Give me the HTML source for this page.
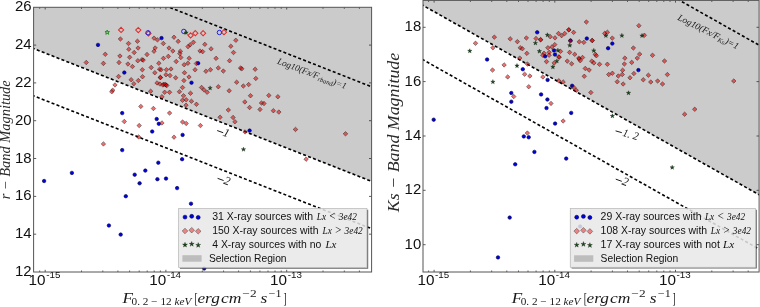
<!DOCTYPE html>
<html><head><meta charset="utf-8">
<style>
html,body{margin:0;padding:0;background:#fff;width:760px;height:307px;overflow:hidden}
svg{display:block;filter:blur(0.35px)}
text{font-family:"Liberation Sans",sans-serif}
.ser{font-family:"Liberation Serif",serif}
.it{font-style:italic}
</style></head><body>
<svg width="760" height="307" viewBox="0 0 760 307">
<defs>
<clipPath id="cl"><rect x="33.6" y="7.3" width="338.0" height="264.7"/></clipPath>
<clipPath id="cr"><rect x="423.0" y="0.4" width="336.1" height="271.6"/></clipPath>
</defs>

<polygon fill="#cbcbcb" points="33.6,7.3 371.6,7.3 371.6,181.4 33.6,48.5"/>
<polygon fill="#cbcbcb" points="423.0,0.4 759.1,0.4 759.1,194.8 423.0,5.4"/>
<g clip-path="url(#cl)">
<line x1="28.6" y1="-48.03" x2="376.6" y2="88.74" stroke="#000" stroke-width="1.6" stroke-dasharray="3.05 2.25" fill="none" stroke-dashoffset="1.82"/>
<line x1="28.6" y1="46.57" x2="376.6" y2="183.34" stroke="#000" stroke-width="1.6" stroke-dasharray="3.05 2.25" fill="none" stroke-dashoffset="1.82"/>
<line x1="28.6" y1="93.87" x2="376.6" y2="230.64" stroke="#000" stroke-width="1.6" stroke-dasharray="3.05 2.25" fill="none" stroke-dashoffset="1.82"/>
</g>
<g clip-path="url(#cr)">
<line x1="418.0" y1="-147.00" x2="764.1" y2="47.99" stroke="#000" stroke-width="1.6" stroke-dasharray="3.05 2.25" fill="none" stroke-dashoffset="-0.8"/>
<line x1="418.0" y1="2.60" x2="764.1" y2="197.59" stroke="#000" stroke-width="1.6" stroke-dasharray="3.05 2.25" fill="none" stroke-dashoffset="1.93"/>
<line x1="418.0" y1="56.90" x2="764.1" y2="251.89" stroke="#000" stroke-width="1.6" stroke-dasharray="3.05 2.25" fill="none" stroke-dashoffset="0.67"/>
</g>
<g clip-path="url(#cl)">
<g fill="#0000e8" stroke="#000040" stroke-width="0.6"><circle cx="98.0" cy="44.9" r="1.75"/><circle cx="161.5" cy="38.1" r="1.75"/><circle cx="124.3" cy="72.6" r="1.75"/><circle cx="198.1" cy="63.2" r="1.75"/><circle cx="191.5" cy="82.7" r="1.75"/><circle cx="122.2" cy="113.1" r="1.75"/><circle cx="122.2" cy="150.1" r="1.75"/><circle cx="156.7" cy="119.0" r="1.75"/><circle cx="158.8" cy="123.8" r="1.75"/><circle cx="152.2" cy="131.5" r="1.75"/><circle cx="182.6" cy="134.9" r="1.75"/><circle cx="249.6" cy="130.6" r="1.75"/><circle cx="182.1" cy="159.2" r="1.75"/><circle cx="44.1" cy="181.0" r="1.75"/><circle cx="71.9" cy="172.9" r="1.75"/><circle cx="134.7" cy="174.7" r="1.75"/><circle cx="145.3" cy="170.6" r="1.75"/><circle cx="139.6" cy="183.3" r="1.75"/><circle cx="125.8" cy="196.2" r="1.75"/><circle cx="158.3" cy="162.7" r="1.75"/><circle cx="157.4" cy="179.2" r="1.75"/><circle cx="166.0" cy="178.6" r="1.75"/><circle cx="177.1" cy="188.1" r="1.75"/><circle cx="191.0" cy="203.7" r="1.75"/><circle cx="108.9" cy="225.5" r="1.75"/><circle cx="120.7" cy="234.6" r="1.75"/><circle cx="204.2" cy="268.5" r="1.75"/></g>
<g fill="rgba(224,0,0,0.56)" stroke="rgba(0,0,0,0.55)" stroke-width="0.7"><path d="M120.4 36.8L122.7 39.0L120.4 41.2L118.2 39.0Z"/><path d="M128.5 41.2L130.8 43.5L128.5 45.8L126.2 43.5Z"/><path d="M137.4 39.0L139.7 41.2L137.4 43.5L135.2 41.2Z"/><path d="M128.8 47.0L131.1 49.2L128.8 51.5L126.6 49.2Z"/><path d="M138.1 45.8L140.3 48.0L138.1 50.2L135.8 48.0Z"/><path d="M134.2 50.2L136.4 52.5L134.2 54.8L131.9 52.5Z"/><path d="M105.2 52.0L107.5 54.3L105.2 56.5L103.0 54.3Z"/><path d="M119.9 53.8L122.2 56.0L119.9 58.2L117.7 56.0Z"/><path d="M129.7 55.0L131.9 57.3L129.7 59.5L127.4 57.3Z"/><path d="M154.0 35.9L156.2 38.1L154.0 40.4L151.8 38.1Z"/><path d="M157.4 37.6L159.7 39.9L157.4 42.1L155.2 39.9Z"/><path d="M163.3 41.2L165.6 43.5L163.3 45.8L161.1 43.5Z"/><path d="M174.0 35.0L176.2 37.2L174.0 39.5L171.8 37.2Z"/><path d="M178.2 39.1L180.4 41.4L178.2 43.6L175.9 41.4Z"/><path d="M193.4 40.0L195.7 42.3L193.4 44.5L191.2 42.3Z"/><path d="M190.2 42.5L192.4 44.8L190.2 47.0L187.9 44.8Z"/><path d="M188.0 44.4L190.2 46.6L188.0 48.9L185.8 46.6Z"/><path d="M204.8 42.1L207.1 44.4L204.8 46.6L202.6 44.4Z"/><path d="M211.1 46.6L213.3 48.9L211.1 51.1L208.8 48.9Z"/><path d="M200.0 48.8L202.2 51.0L200.0 53.2L197.8 51.0Z"/><path d="M202.7 49.4L204.9 51.6L202.7 53.9L200.4 51.6Z"/><path d="M235.8 38.0L238.1 40.3L235.8 42.5L233.6 40.3Z"/><path d="M230.8 44.0L233.1 46.2L230.8 48.5L228.6 46.2Z"/><path d="M233.5 50.2L235.8 52.5L233.5 54.8L231.2 52.5Z"/><path d="M155.2 45.8L157.4 48.0L155.2 50.2L152.9 48.0Z"/><path d="M154.0 49.0L156.2 51.2L154.0 53.5L151.8 51.2Z"/><path d="M169.0 45.8L171.2 48.0L169.0 50.2L166.8 48.0Z"/><path d="M172.8 48.8L175.1 51.0L172.8 53.2L170.6 51.0Z"/><path d="M147.0 52.2L149.2 54.5L147.0 56.8L144.8 54.5Z"/><path d="M180.3 49.0L182.6 51.2L180.3 53.5L178.1 51.2Z"/><path d="M179.8 51.4L182.1 53.6L179.8 55.9L177.6 53.6Z"/><path d="M180.8 55.2L183.1 57.5L180.8 59.8L178.6 57.5Z"/><path d="M142.1 57.4L144.3 59.6L142.1 61.9L139.8 59.6Z"/><path d="M143.2 57.9L145.4 60.1L143.2 62.4L140.9 60.1Z"/><path d="M163.4 56.1L165.7 58.4L163.4 60.6L161.2 58.4Z"/><path d="M168.3 54.1L170.6 56.4L168.3 58.6L166.1 56.4Z"/><path d="M189.2 56.0L191.4 58.2L189.2 60.5L186.9 58.2Z"/><path d="M158.8 61.0L161.1 63.2L158.8 65.5L156.6 63.2Z"/><path d="M176.2 59.2L178.4 61.5L176.2 63.8L173.9 61.5Z"/><path d="M184.2 62.5L186.4 64.7L184.2 67.0L181.9 64.7Z"/><path d="M187.9 61.0L190.2 63.2L187.9 65.5L185.7 63.2Z"/><path d="M196.4 61.2L198.7 63.5L196.4 65.8L194.2 63.5Z"/><path d="M151.2 65.2L153.4 67.5L151.2 69.8L148.9 67.5Z"/><path d="M142.3 67.5L144.6 69.8L142.3 72.0L140.1 69.8Z"/><path d="M159.6 67.0L161.8 69.2L159.6 71.5L157.3 69.2Z"/><path d="M161.1 67.5L163.3 69.8L161.1 72.0L158.8 69.8Z"/><path d="M166.4 67.5L168.7 69.8L166.4 72.0L164.2 69.8Z"/><path d="M171.0 66.8L173.2 69.0L171.0 71.2L168.8 69.0Z"/><path d="M154.8 70.5L157.1 72.7L154.8 75.0L152.6 72.7Z"/><path d="M184.5 70.5L186.8 72.7L184.5 75.0L182.2 72.7Z"/><path d="M195.1 67.5L197.3 69.8L195.1 72.0L192.8 69.8Z"/><path d="M205.9 69.0L208.2 71.2L205.9 73.5L203.7 71.2Z"/><path d="M210.4 67.5L212.7 69.8L210.4 72.0L208.2 69.8Z"/><path d="M142.5 74.5L144.8 76.7L142.5 79.0L140.2 76.7Z"/><path d="M160.3 75.0L162.6 77.2L160.3 79.5L158.1 77.2Z"/><path d="M166.0 72.5L168.2 74.7L166.0 77.0L163.8 74.7Z"/><path d="M170.0 73.2L172.2 75.5L170.0 77.8L167.8 75.5Z"/><path d="M175.7 75.5L177.9 77.8L175.7 80.0L173.4 77.8Z"/><path d="M189.0 74.8L191.2 77.0L189.0 79.2L186.8 77.0Z"/><path d="M183.9 78.3L186.2 80.6L183.9 82.8L181.7 80.6Z"/><path d="M160.4 75.5L162.7 77.7L160.4 80.0L158.2 77.7Z"/><path d="M163.8 82.0L166.1 84.3L163.8 86.5L161.6 84.3Z"/><path d="M165.9 82.8L168.2 85.1L165.9 87.3L163.7 85.1Z"/><path d="M157.1 80.7L159.3 82.9L157.1 85.2L154.8 82.9Z"/><path d="M159.9 81.8L162.2 84.1L159.9 86.3L157.7 84.1Z"/><path d="M162.8 82.7L165.1 84.9L162.8 87.2L160.6 84.9Z"/><path d="M165.3 82.2L167.6 84.4L165.3 86.7L163.1 84.4Z"/><path d="M166.8 83.2L169.1 85.5L166.8 87.8L164.6 85.5Z"/><path d="M182.5 85.2L184.8 87.5L182.5 89.8L180.2 87.5Z"/><path d="M201.6 85.2L203.8 87.5L201.6 89.8L199.3 87.5Z"/><path d="M216.1 56.1L218.3 58.4L216.1 60.6L213.8 58.4Z"/><path d="M229.6 58.5L231.8 60.7L229.6 63.0L227.3 60.7Z"/><path d="M240.6 65.8L242.8 68.0L240.6 70.2L238.3 68.0Z"/><path d="M241.8 66.5L244.1 68.8L241.8 71.0L239.6 68.8Z"/><path d="M218.3 65.7L220.6 67.9L218.3 70.2L216.1 67.9Z"/><path d="M223.3 68.8L225.6 71.1L223.3 73.3L221.1 71.1Z"/><path d="M236.7 80.0L238.9 82.2L236.7 84.5L234.4 82.2Z"/><path d="M243.3 83.8L245.6 86.0L243.3 88.2L241.1 86.0Z"/><path d="M248.7 82.3L250.9 84.6L248.7 86.8L246.4 84.6Z"/><path d="M204.1 87.7L206.3 89.9L204.1 92.2L201.8 89.9Z"/><path d="M207.2 90.0L209.4 92.3L207.2 94.5L204.9 92.3Z"/><path d="M218.3 84.5L220.6 86.7L218.3 89.0L216.1 86.7Z"/><path d="M229.2 88.5L231.4 90.8L229.2 93.0L226.9 90.8Z"/><path d="M150.7 89.0L152.9 91.2L150.7 93.5L148.4 91.2Z"/><path d="M164.7 90.0L166.9 92.3L164.7 94.5L162.4 92.3Z"/><path d="M169.6 90.0L171.8 92.3L169.6 94.5L167.3 92.3Z"/><path d="M179.4 89.5L181.7 91.7L179.4 94.0L177.2 91.7Z"/><path d="M190.5 91.0L192.8 93.2L190.5 95.5L188.2 93.2Z"/><path d="M250.5 93.5L252.8 95.7L250.5 98.0L248.2 95.7Z"/><path d="M161.9 94.5L164.2 96.7L161.9 99.0L159.7 96.7Z"/><path d="M183.5 93.5L185.8 95.8L183.5 98.0L181.2 95.8Z"/><path d="M182.5 98.0L184.8 100.3L182.5 102.5L180.2 100.3Z"/><path d="M186.2 97.5L188.4 99.8L186.2 102.0L183.9 99.8Z"/><path d="M191.4 99.0L193.7 101.2L191.4 103.5L189.2 101.2Z"/><path d="M196.4 102.0L198.7 104.3L196.4 106.5L194.2 104.3Z"/><path d="M186.0 103.0L188.2 105.2L186.0 107.5L183.8 105.2Z"/><path d="M153.4 106.2L155.7 108.5L153.4 110.8L151.2 108.5Z"/><path d="M140.8 104.2L143.1 106.4L140.8 108.7L138.6 106.4Z"/><path d="M244.8 99.7L247.1 101.9L244.8 104.2L242.6 101.9Z"/><path d="M249.6 105.2L251.8 107.5L249.6 109.8L247.3 107.5Z"/><path d="M228.3 107.8L230.6 110.0L228.3 112.2L226.1 110.0Z"/><path d="M137.8 58.5L140.1 60.7L137.8 63.0L135.6 60.7Z"/><path d="M86.2 60.2L88.5 62.5L86.2 64.8L84.0 62.5Z"/><path d="M103.4 61.1L105.7 63.4L103.4 65.7L101.2 63.4Z"/><path d="M119.0 60.2L121.2 62.5L119.0 64.8L116.8 62.5Z"/><path d="M127.9 61.8L130.2 64.0L127.9 66.2L125.7 64.0Z"/><path d="M132.4 64.3L134.7 66.6L132.4 68.8L130.2 66.6Z"/><path d="M118.6 74.2L120.8 76.5L118.6 78.8L116.3 76.5Z"/><path d="M131.2 77.5L133.4 79.7L131.2 82.0L128.9 79.7Z"/><path d="M138.3 78.3L140.6 80.6L138.3 82.8L136.1 80.6Z"/><path d="M133.8 81.5L136.1 83.7L133.8 86.0L131.6 83.7Z"/><path d="M115.0 82.7L117.2 84.9L115.0 87.2L112.8 84.9Z"/><path d="M112.7 88.0L115.0 90.3L112.7 92.5L110.5 90.3Z"/><path d="M111.8 89.5L114.0 91.7L111.8 94.0L109.5 91.7Z"/><path d="M255.2 67.0L257.4 69.2L255.2 71.5L252.9 69.2Z"/><path d="M255.8 76.2L258.1 78.4L255.8 80.7L253.6 78.4Z"/><path d="M268.8 93.2L271.1 95.4L268.8 97.7L266.6 95.4Z"/><path d="M277.9 94.5L280.1 96.7L277.9 99.0L275.6 96.7Z"/><path d="M261.5 100.8L263.8 103.0L261.5 105.2L259.2 103.0Z"/><path d="M264.0 101.2L266.2 103.5L264.0 105.8L261.8 103.5Z"/><path d="M260.0 107.2L262.2 109.4L260.0 111.7L257.8 109.4Z"/><path d="M273.4 108.5L275.6 110.7L273.4 113.0L271.1 110.7Z"/><path d="M278.8 109.8L281.1 112.1L278.8 114.3L276.6 112.1Z"/><path d="M124.3 119.2L126.5 121.5L124.3 123.8L122.0 121.5Z"/><path d="M139.2 123.3L141.4 125.6L139.2 127.8L136.9 125.6Z"/><path d="M138.7 134.7L140.9 136.9L138.7 139.2L136.4 136.9Z"/><path d="M103.4 141.7L105.7 143.9L103.4 146.2L101.2 143.9Z"/><path d="M169.6 110.8L171.8 113.1L169.6 115.3L167.3 113.1Z"/><path d="M220.1 115.0L222.3 117.2L220.1 119.5L217.8 117.2Z"/><path d="M233.1 115.2L235.3 117.5L233.1 119.8L230.8 117.5Z"/><path d="M234.9 119.5L237.2 121.7L234.9 124.0L232.7 121.7Z"/><path d="M161.9 120.7L164.2 122.9L161.9 125.2L159.7 122.9Z"/><path d="M182.6 119.8L184.8 122.0L182.6 124.2L180.3 122.0Z"/><path d="M186.2 121.2L188.4 123.4L186.2 125.7L183.9 123.4Z"/><path d="M200.4 123.3L202.7 125.6L200.4 127.8L198.2 125.6Z"/><path d="M174.0 134.9L176.2 137.2L174.0 139.4L171.8 137.2Z"/><path d="M245.1 129.7L247.3 131.9L245.1 134.2L242.8 131.9Z"/><path d="M295.5 127.2L297.8 129.4L295.5 131.7L293.2 129.4Z"/><path d="M345.5 131.6L347.8 133.8L345.5 136.1L343.2 133.8Z"/><path d="M306.1 156.9L308.4 159.2L306.1 161.4L303.9 159.2Z"/></g>
<g fill="none" stroke="#dc3030" stroke-width="1.05"><path d="M121.1 27.3L123.7 29.9L121.1 32.5L118.5 29.9Z"/><path d="M138.3 27.5L140.9 30.1L138.3 32.7L135.7 30.1Z"/><path d="M148.5 30.9L151.1 33.5L148.5 36.1L145.9 33.5Z"/><path d="M190.6 32.8L193.2 35.4L190.6 38.0L188.0 35.4Z"/><path d="M195.3 30.6L197.9 33.2L195.3 35.8L192.7 33.2Z"/><path d="M203.1 30.6L205.7 33.2L203.1 35.8L200.5 33.2Z"/><path d="M224.0 29.6L226.6 32.2L224.0 34.8L221.4 32.2Z"/></g>
<g fill="none" stroke="#2020e0" stroke-width="1.0"><circle cx="148.0" cy="32.8" r="2.2"/><circle cx="183.8" cy="31.4" r="2.2"/><circle cx="219.4" cy="32.5" r="2.2"/></g>
<g fill="none" stroke="#1f8a1f" stroke-width="1.0"><path d="M107.20 30.05L107.73 31.67L109.43 31.67L108.05 32.68L108.58 34.30L107.20 33.30L105.82 34.30L106.35 32.68L104.97 31.67L106.67 31.67Z"/></g>
<g fill="#164f16" stroke="rgba(0,0,0,0.6)" stroke-width="0.5"><path d="M186.10 30.40L186.62 31.99L188.29 31.99L186.94 32.97L187.45 34.56L186.10 33.58L184.75 34.56L185.26 32.97L183.91 31.99L185.58 31.99Z"/><path d="M210.10 85.80L210.62 87.39L212.29 87.39L210.94 88.37L211.45 89.96L210.10 88.98L208.75 89.96L209.26 88.37L207.91 87.39L209.58 87.39Z"/><path d="M243.50 147.10L244.02 148.69L245.69 148.69L244.34 149.67L244.85 151.26L243.50 150.28L242.15 151.26L242.66 149.67L241.31 148.69L242.98 148.69Z"/></g>
</g>
<g clip-path="url(#cr)">
<g fill="#0000e8" stroke="#000040" stroke-width="0.6"><circle cx="537.2" cy="32.3" r="1.75"/><circle cx="570.5" cy="40.6" r="1.75"/><circle cx="586.8" cy="38.5" r="1.75"/><circle cx="612.3" cy="43.6" r="1.75"/><circle cx="608.1" cy="48.2" r="1.75"/><circle cx="554.0" cy="50.4" r="1.75"/><circle cx="545.1" cy="56.3" r="1.75"/><circle cx="555.0" cy="54.6" r="1.75"/><circle cx="638.4" cy="70.1" r="1.75"/><circle cx="487.1" cy="59.5" r="1.75"/><circle cx="522.8" cy="69.2" r="1.75"/><circle cx="547.6" cy="79.9" r="1.75"/><circle cx="572.1" cy="85.8" r="1.75"/><circle cx="541.1" cy="94.4" r="1.75"/><circle cx="547.4" cy="99.5" r="1.75"/><circle cx="511.3" cy="93.0" r="1.75"/><circle cx="511.3" cy="101.7" r="1.75"/><circle cx="433.7" cy="119.7" r="1.75"/><circle cx="523.8" cy="136.4" r="1.75"/><circle cx="528.7" cy="137.3" r="1.75"/><circle cx="534.4" cy="151.9" r="1.75"/><circle cx="546.5" cy="108.1" r="1.75"/><circle cx="571.2" cy="112.9" r="1.75"/><circle cx="555.1" cy="123.6" r="1.75"/><circle cx="515.2" cy="164.3" r="1.75"/><circle cx="566.2" cy="158.6" r="1.75"/><circle cx="509.7" cy="217.6" r="1.75"/><circle cx="498.0" cy="257.4" r="1.75"/><circle cx="580.1" cy="226.4" r="1.75"/></g>
<g fill="rgba(224,0,0,0.56)" stroke="rgba(0,0,0,0.55)" stroke-width="0.7"><path d="M494.3 34.9L496.6 37.1L494.3 39.4L492.1 37.1Z"/><path d="M510.2 36.6L512.5 38.9L510.2 41.1L507.9 38.9Z"/><path d="M517.4 39.4L519.6 41.6L517.4 43.9L515.1 41.6Z"/><path d="M526.4 35.8L528.6 38.0L526.4 40.2L524.1 38.0Z"/><path d="M536.0 36.2L538.2 38.5L536.0 40.8L533.8 38.5Z"/><path d="M540.5 37.4L542.8 39.6L540.5 41.9L538.2 39.6Z"/><path d="M475.5 41.0L477.8 43.3L475.5 45.5L473.2 43.3Z"/><path d="M492.9 45.5L495.1 47.8L492.9 50.0L490.6 47.8Z"/><path d="M520.3 45.5L522.5 47.8L520.3 50.0L518.0 47.8Z"/><path d="M522.4 46.5L524.6 48.7L522.4 51.0L520.1 48.7Z"/><path d="M526.9 51.1L529.1 53.4L526.9 55.6L524.6 53.4Z"/><path d="M586.4 19.8L588.6 22.0L586.4 24.2L584.1 22.0Z"/><path d="M638.9 23.4L641.1 25.7L638.9 27.9L636.6 25.7Z"/><path d="M568.7 27.6L571.0 29.8L568.7 32.0L566.5 29.8Z"/><path d="M558.5 31.2L560.8 33.5L558.5 35.8L556.2 33.5Z"/><path d="M561.6 33.4L563.9 35.6L561.6 37.9L559.4 35.6Z"/><path d="M564.7 31.2L567.0 33.5L564.7 35.8L562.5 33.5Z"/><path d="M573.6 30.1L575.9 32.4L573.6 34.6L571.4 32.4Z"/><path d="M550.2 34.5L552.5 36.7L550.2 39.0L548.0 36.7Z"/><path d="M555.0 35.6L557.2 37.9L555.0 40.1L552.8 37.9Z"/><path d="M579.3 39.5L581.5 41.8L579.3 44.0L577.0 41.8Z"/><path d="M583.9 40.1L586.1 42.4L583.9 44.6L581.6 42.4Z"/><path d="M592.1 38.1L594.4 40.4L592.1 42.6L589.9 40.4Z"/><path d="M595.3 52.1L597.5 54.4L595.3 56.6L593.0 54.4Z"/><path d="M554.8 42.4L557.0 44.6L554.8 46.9L552.5 44.6Z"/><path d="M551.9 44.8L554.1 47.0L551.9 49.2L549.6 47.0Z"/><path d="M547.9 45.5L550.1 47.8L547.9 50.0L545.6 47.8Z"/><path d="M560.5 49.1L562.8 51.4L560.5 53.6L558.2 51.4Z"/><path d="M544.0 51.0L546.2 53.3L544.0 55.5L541.8 53.3Z"/><path d="M549.1 50.1L551.4 52.4L549.1 54.6L546.9 52.4Z"/><path d="M549.1 53.0L551.4 55.2L549.1 57.5L546.9 55.2Z"/><path d="M558.8 54.6L561.0 56.9L558.8 59.1L556.5 56.9Z"/><path d="M569.6 50.1L571.9 52.4L569.6 54.6L567.4 52.4Z"/><path d="M574.7 52.1L577.0 54.4L574.7 56.6L572.5 54.4Z"/><path d="M578.7 55.9L581.0 58.1L578.7 60.4L576.5 58.1Z"/><path d="M582.5 55.2L584.8 57.5L582.5 59.8L580.2 57.5Z"/><path d="M542.8 53.0L545.0 55.2L542.8 57.5L540.5 55.2Z"/><path d="M570.4 38.6L572.6 40.9L570.4 43.1L568.1 40.9Z"/><path d="M568.9 27.6L571.1 29.9L568.9 32.1L566.6 29.9Z"/><path d="M540.7 37.5L543.0 39.8L540.7 42.0L538.5 39.8Z"/><path d="M592.3 38.4L594.5 40.6L592.3 42.9L590.0 40.6Z"/><path d="M596.4 53.5L598.6 55.7L596.4 58.0L594.1 55.7Z"/><path d="M604.7 31.1L607.0 33.4L604.7 35.6L602.5 33.4Z"/><path d="M607.4 30.0L609.6 32.2L607.4 34.5L605.1 32.2Z"/><path d="M612.3 35.9L614.5 38.1L612.3 40.4L610.0 38.1Z"/><path d="M644.4 33.0L646.6 35.3L644.4 37.5L642.1 35.3Z"/><path d="M633.4 45.8L635.6 48.0L633.4 50.2L631.1 48.0Z"/><path d="M639.6 51.9L641.9 54.1L639.6 56.4L637.4 54.1Z"/><path d="M652.5 53.0L654.8 55.3L652.5 57.5L650.2 55.3Z"/><path d="M637.3 55.9L639.5 58.1L637.3 60.4L635.0 58.1Z"/><path d="M624.9 55.9L627.1 58.1L624.9 60.4L622.6 58.1Z"/><path d="M664.5 58.8L666.8 61.0L664.5 63.2L662.2 61.0Z"/><path d="M624.4 61.8L626.6 64.0L624.4 66.2L622.1 64.0Z"/><path d="M631.7 60.1L634.0 62.4L631.7 64.7L629.5 62.4Z"/><path d="M519.7 55.9L522.0 58.1L519.7 60.4L517.5 58.1Z"/><path d="M527.4 61.8L529.6 64.0L527.4 66.2L525.1 64.0Z"/><path d="M504.1 62.7L506.4 64.9L504.1 67.2L501.9 64.9Z"/><path d="M492.5 67.8L494.8 70.1L492.5 72.3L490.2 70.1Z"/><path d="M524.6 72.0L526.9 74.2L524.6 76.5L522.4 74.2Z"/><path d="M529.9 73.8L532.1 76.0L529.9 78.2L527.6 76.0Z"/><path d="M507.7 74.7L509.9 76.9L507.7 79.2L505.4 76.9Z"/><path d="M528.7 84.5L531.0 86.7L528.7 89.0L526.5 86.7Z"/><path d="M513.8 94.3L516.0 96.6L513.8 98.8L511.5 96.6Z"/><path d="M546.5 59.4L548.8 61.6L546.5 63.9L544.2 61.6Z"/><path d="M559.2 55.0L561.5 57.2L559.2 59.5L557.0 57.2Z"/><path d="M554.2 60.6L556.5 62.9L554.2 65.2L552.0 62.9Z"/><path d="M567.3 58.9L569.5 61.1L567.3 63.4L565.0 61.1Z"/><path d="M571.6 61.5L573.9 63.8L571.6 66.0L569.4 63.8Z"/><path d="M579.3 56.8L581.5 59.0L579.3 61.2L577.0 59.0Z"/><path d="M580.2 58.5L582.5 60.7L580.2 63.0L578.0 60.7Z"/><path d="M591.8 58.9L594.0 61.1L591.8 63.4L589.5 61.1Z"/><path d="M593.9 60.6L596.1 62.9L593.9 65.2L591.6 62.9Z"/><path d="M599.5 62.0L601.8 64.3L599.5 66.5L597.2 64.3Z"/><path d="M607.4 62.0L609.6 64.3L607.4 66.5L605.1 64.3Z"/><path d="M585.2 66.2L587.5 68.4L585.2 70.7L583.0 68.4Z"/><path d="M589.1 67.8L591.4 70.1L589.1 72.3L586.9 70.1Z"/><path d="M584.3 74.0L586.5 76.3L584.3 78.5L582.0 76.3Z"/><path d="M622.6 68.0L624.9 70.2L622.6 72.5L620.4 70.2Z"/><path d="M608.8 72.2L611.0 74.5L608.8 76.8L606.5 74.5Z"/><path d="M612.4 71.0L614.6 73.3L612.4 75.5L610.1 73.3Z"/><path d="M618.3 73.8L620.5 76.0L618.3 78.2L616.0 76.0Z"/><path d="M622.2 72.2L624.5 74.5L622.2 76.8L620.0 74.5Z"/><path d="M633.9 71.3L636.1 73.6L633.9 75.8L631.6 73.6Z"/><path d="M630.0 75.5L632.2 77.8L630.0 80.0L627.8 77.8Z"/><path d="M643.3 77.5L645.5 79.8L643.3 82.0L641.0 79.8Z"/><path d="M617.2 79.5L619.5 81.7L617.2 84.0L615.0 81.7Z"/><path d="M623.1 81.8L625.4 84.0L623.1 86.2L620.9 84.0Z"/><path d="M542.9 74.7L545.1 76.9L542.9 79.2L540.6 76.9Z"/><path d="M558.7 78.5L561.0 80.8L558.7 83.0L556.5 80.8Z"/><path d="M563.1 79.7L565.4 81.9L563.1 84.2L560.9 81.9Z"/><path d="M573.9 85.3L576.1 87.6L573.9 89.8L571.6 87.6Z"/><path d="M576.2 88.0L578.5 90.3L576.2 92.5L574.0 90.3Z"/><path d="M590.9 90.2L593.1 92.5L590.9 94.8L588.6 92.5Z"/><path d="M551.0 101.2L553.2 103.4L551.0 105.7L548.8 103.4Z"/><path d="M648.4 73.0L650.6 75.2L648.4 77.5L646.1 75.2Z"/><path d="M667.4 72.3L669.6 74.6L667.4 76.8L665.1 74.6Z"/><path d="M650.7 79.8L653.0 82.0L650.7 84.2L648.5 82.0Z"/><path d="M657.6 78.8L659.9 81.0L657.6 83.2L655.4 81.0Z"/><path d="M662.5 81.8L664.8 84.0L662.5 86.2L660.2 84.0Z"/><path d="M733.8 78.8L736.0 81.0L733.8 83.2L731.5 81.0Z"/><path d="M527.4 130.8L529.6 133.1L527.4 135.3L525.1 133.1Z"/><path d="M563.1 118.8L565.4 121.0L563.1 123.2L560.9 121.0Z"/><path d="M684.6 112.0L686.9 114.2L684.6 116.5L682.4 114.2Z"/><path d="M694.7 107.0L697.0 109.3L694.7 111.5L692.5 109.3Z"/></g>
<g fill="#164f16" stroke="rgba(0,0,0,0.6)" stroke-width="0.5"><path d="M535.40 40.80L535.92 42.39L537.59 42.39L536.24 43.37L536.75 44.96L535.40 43.98L534.05 44.96L534.56 43.37L533.21 42.39L534.88 42.39Z"/><path d="M547.40 32.70L547.92 34.29L549.59 34.29L548.24 35.27L548.75 36.86L547.40 35.88L546.05 36.86L546.56 35.27L545.21 34.29L546.88 34.29Z"/><path d="M569.80 43.10L570.32 44.69L571.99 44.69L570.64 45.67L571.15 47.26L569.80 46.28L568.45 47.26L568.96 45.67L567.61 44.69L569.28 44.69Z"/><path d="M593.80 48.30L594.32 49.89L595.99 49.89L594.64 50.87L595.15 52.46L593.80 51.48L592.45 52.46L592.96 50.87L591.61 49.89L593.28 49.89Z"/><path d="M539.40 49.00L539.92 50.59L541.59 50.59L540.24 51.57L540.75 53.16L539.40 52.18L538.05 53.16L538.56 51.57L537.21 50.59L538.88 50.59Z"/><path d="M557.90 48.10L558.42 49.69L560.09 49.69L558.74 50.67L559.25 52.26L557.90 51.28L556.55 52.26L557.06 50.67L555.71 49.69L557.38 49.69Z"/><path d="M605.90 33.40L606.42 34.99L608.09 34.99L606.74 35.97L607.25 37.56L605.90 36.58L604.55 37.56L605.06 35.97L603.71 34.99L605.38 34.99Z"/><path d="M621.90 33.30L622.42 34.89L624.09 34.89L622.74 35.87L623.25 37.46L621.90 36.48L620.55 37.46L621.06 35.87L619.71 34.89L621.38 34.89Z"/><path d="M642.00 33.40L642.52 34.99L644.19 34.99L642.84 35.97L643.35 37.56L642.00 36.58L640.65 37.56L641.16 35.97L639.81 34.99L641.48 34.99Z"/><path d="M469.80 48.70L470.32 50.29L471.99 50.29L470.64 51.27L471.15 52.86L469.80 51.88L468.45 52.86L468.96 51.27L467.61 50.29L469.28 50.29Z"/><path d="M517.00 63.50L517.52 65.09L519.19 65.09L517.84 66.07L518.35 67.66L517.00 66.68L515.65 67.66L516.16 66.07L514.81 65.09L516.48 65.09Z"/><path d="M492.90 79.60L493.42 81.19L495.09 81.19L493.74 82.17L494.25 83.76L492.90 82.78L491.55 83.76L492.06 82.17L490.71 81.19L492.38 81.19Z"/><path d="M556.90 58.80L557.42 60.39L559.09 60.39L557.74 61.37L558.25 62.96L556.90 61.98L555.55 62.96L556.06 61.37L554.71 60.39L556.38 60.39Z"/><path d="M552.90 64.70L553.42 66.29L555.09 66.29L553.74 67.27L554.25 68.86L552.90 67.88L551.55 68.86L552.06 67.27L550.71 66.29L552.38 66.29Z"/><path d="M628.50 90.70L629.02 92.29L630.69 92.29L629.34 93.27L629.85 94.86L628.50 93.88L627.15 94.86L627.66 93.27L626.31 92.29L627.98 92.29Z"/><path d="M612.40 113.70L612.92 115.29L614.59 115.29L613.24 116.27L613.75 117.86L612.40 116.88L611.05 117.86L611.56 116.27L610.21 115.29L611.88 115.29Z"/><path d="M672.20 165.20L672.72 166.79L674.39 166.79L673.04 167.77L673.55 169.36L672.20 168.38L670.85 169.36L671.36 167.77L670.01 166.79L671.68 166.79Z"/></g>
</g>
<path d="M39.7 272.0v-1.5M39.7 7.3v1.5M45.2 272.0v-2.2M45.2 7.3v2.2M81.5 272.0v-1.5M81.5 7.3v1.5M102.8 272.0v-1.5M102.8 7.3v1.5M117.9 272.0v-1.5M117.9 7.3v1.5M129.6 272.0v-1.5M129.6 7.3v1.5M139.2 272.0v-1.5M139.2 7.3v1.5M147.2 272.0v-1.5M147.2 7.3v1.5M154.2 272.0v-1.5M154.2 7.3v1.5M160.4 272.0v-1.5M160.4 7.3v1.5M165.9 272.0v-2.2M165.9 7.3v2.2M202.3 272.0v-1.5M202.3 7.3v1.5M223.6 272.0v-1.5M223.6 7.3v1.5M238.6 272.0v-1.5M238.6 7.3v1.5M250.4 272.0v-1.5M250.4 7.3v1.5M259.9 272.0v-1.5M259.9 7.3v1.5M268.0 272.0v-1.5M268.0 7.3v1.5M275.0 272.0v-1.5M275.0 7.3v1.5M281.2 272.0v-1.5M281.2 7.3v1.5M286.7 272.0v-2.2M286.7 7.3v2.2M323.0 272.0v-1.5M323.0 7.3v1.5M344.3 272.0v-1.5M344.3 7.3v1.5M359.4 272.0v-1.5M359.4 7.3v1.5M33.6 234.2h2.6M371.6 234.2h-2.6M33.6 196.4h2.6M371.6 196.4h-2.6M33.6 158.5h2.6M371.6 158.5h-2.6M33.6 120.7h2.6M371.6 120.7h-2.6M33.6 82.9h2.6M371.6 82.9h-2.6M33.6 45.1h2.6M371.6 45.1h-2.6" stroke="#333" stroke-width="0.8" fill="none"/>
<rect x="33.6" y="7.3" width="338.0" height="264.7" fill="none" stroke="#555" stroke-width="1.0"/>
<path d="M428.6 272.0v-1.5M428.6 0.4v1.5M434.1 272.0v-2.2M434.1 0.4v2.2M470.4 272.0v-1.5M470.4 0.4v1.5M491.7 272.0v-1.5M491.7 0.4v1.5M506.8 272.0v-1.5M506.8 0.4v1.5M518.5 272.0v-1.5M518.5 0.4v1.5M528.0 272.0v-1.5M528.0 0.4v1.5M536.1 272.0v-1.5M536.1 0.4v1.5M543.1 272.0v-1.5M543.1 0.4v1.5M549.3 272.0v-1.5M549.3 0.4v1.5M554.8 272.0v-2.2M554.8 0.4v2.2M591.1 272.0v-1.5M591.1 0.4v1.5M612.4 272.0v-1.5M612.4 0.4v1.5M627.5 272.0v-1.5M627.5 0.4v1.5M639.2 272.0v-1.5M639.2 0.4v1.5M648.7 272.0v-1.5M648.7 0.4v1.5M656.8 272.0v-1.5M656.8 0.4v1.5M663.8 272.0v-1.5M663.8 0.4v1.5M670.0 272.0v-1.5M670.0 0.4v1.5M675.5 272.0v-2.2M675.5 0.4v2.2M711.8 272.0v-1.5M711.8 0.4v1.5M733.1 272.0v-1.5M733.1 0.4v1.5M748.2 272.0v-1.5M748.2 0.4v1.5M423.0 244.7h2.6M759.1 244.7h-2.6M423.0 190.3h2.6M759.1 190.3h-2.6M423.0 136.0h2.6M759.1 136.0h-2.6M423.0 81.6h2.6M759.1 81.6h-2.6M423.0 27.3h2.6M759.1 27.3h-2.6" stroke="#333" stroke-width="0.8" fill="none"/>
<rect x="423.0" y="0.4" width="336.1" height="271.6" fill="none" stroke="#555" stroke-width="1.0"/>
<text x="31.6" y="276.0" text-anchor="end" font-size="14.3" fill="#111" textLength="16.6" lengthAdjust="spacingAndGlyphs">12</text>
<text x="31.6" y="238.2" text-anchor="end" font-size="14.3" fill="#111" textLength="16.6" lengthAdjust="spacingAndGlyphs">14</text>
<text x="31.6" y="200.4" text-anchor="end" font-size="14.3" fill="#111" textLength="16.6" lengthAdjust="spacingAndGlyphs">16</text>
<text x="31.6" y="162.5" text-anchor="end" font-size="14.3" fill="#111" textLength="16.6" lengthAdjust="spacingAndGlyphs">18</text>
<text x="31.6" y="124.7" text-anchor="end" font-size="14.3" fill="#111" textLength="16.6" lengthAdjust="spacingAndGlyphs">20</text>
<text x="31.6" y="86.9" text-anchor="end" font-size="14.3" fill="#111" textLength="16.6" lengthAdjust="spacingAndGlyphs">22</text>
<text x="31.6" y="49.1" text-anchor="end" font-size="14.3" fill="#111" textLength="16.6" lengthAdjust="spacingAndGlyphs">24</text>
<text x="31.6" y="11.3" text-anchor="end" font-size="14.3" fill="#111" textLength="16.6" lengthAdjust="spacingAndGlyphs">26</text>
<text x="421.2" y="248.7" text-anchor="end" font-size="14.3" fill="#111" textLength="16.6" lengthAdjust="spacingAndGlyphs">10</text>
<text x="421.2" y="194.3" text-anchor="end" font-size="14.3" fill="#111" textLength="16.6" lengthAdjust="spacingAndGlyphs">12</text>
<text x="421.2" y="140.0" text-anchor="end" font-size="14.3" fill="#111" textLength="16.6" lengthAdjust="spacingAndGlyphs">14</text>
<text x="421.2" y="85.6" text-anchor="end" font-size="14.3" fill="#111" textLength="16.6" lengthAdjust="spacingAndGlyphs">16</text>
<text x="421.2" y="31.3" text-anchor="end" font-size="14.3" fill="#111" textLength="16.6" lengthAdjust="spacingAndGlyphs">18</text>
<text x="45.6" y="285" text-anchor="end" font-size="14.3" fill="#111" textLength="17.0" lengthAdjust="spacingAndGlyphs">10</text>
<text x="46.2" y="278.3" font-size="9.8" fill="#111">-15</text>
<text x="434.5" y="285" text-anchor="end" font-size="14.3" fill="#111" textLength="17.0" lengthAdjust="spacingAndGlyphs">10</text>
<text x="435.1" y="278.3" font-size="9.8" fill="#111">-15</text>
<text x="166.3" y="285" text-anchor="end" font-size="14.3" fill="#111" textLength="17.0" lengthAdjust="spacingAndGlyphs">10</text>
<text x="166.9" y="278.3" font-size="9.8" fill="#111">-14</text>
<text x="555.2" y="285" text-anchor="end" font-size="14.3" fill="#111" textLength="17.0" lengthAdjust="spacingAndGlyphs">10</text>
<text x="555.8" y="278.3" font-size="9.8" fill="#111">-14</text>
<text x="287.1" y="285" text-anchor="end" font-size="14.3" fill="#111" textLength="17.0" lengthAdjust="spacingAndGlyphs">10</text>
<text x="287.7" y="278.3" font-size="9.8" fill="#111">-13</text>
<text x="675.9" y="285" text-anchor="end" font-size="14.3" fill="#111" textLength="17.0" lengthAdjust="spacingAndGlyphs">10</text>
<text x="676.5" y="278.3" font-size="9.8" fill="#111">-13</text>
<text class="ser it" x="122.6" y="303.2" font-size="15" fill="#1a1a1a" textLength="10.5" lengthAdjust="spacingAndGlyphs">F</text>
<text class="ser" x="131.6" y="305.0" font-size="10.5" fill="#1a1a1a" textLength="59.8" lengthAdjust="spacingAndGlyphs">0. 2 − 12 <tspan class="it">keV</tspan></text>
<text class="ser" x="194.6" y="303.2" font-size="15" fill="#1a1a1a" textLength="3.2" lengthAdjust="spacingAndGlyphs">[</text>
<text class="ser it" x="197.4" y="303.2" font-size="15" fill="#1a1a1a" textLength="22.4" lengthAdjust="spacingAndGlyphs">erg</text>
<text class="ser it" x="221.0" y="303.2" font-size="15" fill="#1a1a1a" textLength="20.4" lengthAdjust="spacingAndGlyphs">cm</text>
<text class="ser" x="242.4" y="296.8" font-size="10.5" fill="#1a1a1a" textLength="14.2" lengthAdjust="spacingAndGlyphs">−2</text>
<text class="ser it" x="260.6" y="303.2" font-size="15" fill="#1a1a1a" textLength="6.8" lengthAdjust="spacingAndGlyphs">s</text>
<text class="ser" x="268.8" y="296.8" font-size="10.5" fill="#1a1a1a" textLength="12.8" lengthAdjust="spacingAndGlyphs">−1</text>
<text class="ser" x="283.4" y="303.2" font-size="15" fill="#1a1a1a" textLength="3.2" lengthAdjust="spacingAndGlyphs">]</text>
<text class="ser it" x="511.7" y="303.2" font-size="15" fill="#1a1a1a" textLength="10.5" lengthAdjust="spacingAndGlyphs">F</text>
<text class="ser" x="520.7" y="305.0" font-size="10.5" fill="#1a1a1a" textLength="59.8" lengthAdjust="spacingAndGlyphs">0. 2 − 12 <tspan class="it">keV</tspan></text>
<text class="ser" x="583.7" y="303.2" font-size="15" fill="#1a1a1a" textLength="3.2" lengthAdjust="spacingAndGlyphs">[</text>
<text class="ser it" x="586.5" y="303.2" font-size="15" fill="#1a1a1a" textLength="22.4" lengthAdjust="spacingAndGlyphs">erg</text>
<text class="ser it" x="610.1" y="303.2" font-size="15" fill="#1a1a1a" textLength="20.4" lengthAdjust="spacingAndGlyphs">cm</text>
<text class="ser" x="631.5" y="296.8" font-size="10.5" fill="#1a1a1a" textLength="14.2" lengthAdjust="spacingAndGlyphs">−2</text>
<text class="ser it" x="649.7" y="303.2" font-size="15" fill="#1a1a1a" textLength="6.8" lengthAdjust="spacingAndGlyphs">s</text>
<text class="ser" x="657.9" y="296.8" font-size="10.5" fill="#1a1a1a" textLength="12.8" lengthAdjust="spacingAndGlyphs">−1</text>
<text class="ser" x="672.5" y="303.2" font-size="15" fill="#1a1a1a" textLength="3.2" lengthAdjust="spacingAndGlyphs">]</text>
<text class="ser it" transform="translate(9.8 199.3) rotate(-90)" font-size="14" fill="#2a2a2a" textLength="119" lengthAdjust="spacingAndGlyphs">r − Band Magnitude</text>
<text class="ser it" transform="translate(399.1 212.2) rotate(-90)" font-size="17" fill="#2a2a2a" textLength="159.4" lengthAdjust="spacingAndGlyphs">Ks − Band Magnitude</text>
<text class="ser it" fill="#1a1a1a" transform="translate(276.8 63.6) rotate(20.5)" font-size="9.2" textLength="73" lengthAdjust="spacingAndGlyphs">Log10(Fx/F<tspan font-size="6.6" dy="1.8">rband</tspan><tspan dy="-1.8">)=1</tspan></text>
<text class="ser it" fill="#1a1a1a" transform="translate(677.0 19.4) rotate(26.5)" font-size="9.2" textLength="67" lengthAdjust="spacingAndGlyphs">Log10(Fx/F<tspan font-size="6.6" dy="1.8">Ks</tspan><tspan dy="-1.8">)=1</tspan></text>
<g transform="translate(216.0 133.2) rotate(20)"><line x1="0.2" y1="-2.9" x2="6.6" y2="-2.9" stroke="#1a1a1a" stroke-width="0.9"/><text class="ser it" fill="#1a1a1a" x="6.6" y="0" font-size="12">1</text></g>
<g transform="translate(216.4 181.0) rotate(20)"><line x1="0.2" y1="-2.9" x2="6.6" y2="-2.9" stroke="#1a1a1a" stroke-width="0.9"/><text class="ser it" fill="#1a1a1a" x="7.1" y="0" font-size="12">2</text></g>
<g transform="translate(614.6 133.6) rotate(16)"><line x1="0.2" y1="-2.9" x2="6.7" y2="-2.9" stroke="#1a1a1a" stroke-width="0.9"/><text class="ser it" fill="#1a1a1a" x="7.7" y="0" font-size="11.2" textLength="16.0" lengthAdjust="spacingAndGlyphs">1. 2</text></g>
<g transform="translate(614.6 181.8) rotate(20)"><line x1="0.2" y1="-2.9" x2="6.6" y2="-2.9" stroke="#1a1a1a" stroke-width="0.9"/><text class="ser it" fill="#1a1a1a" x="7.1" y="0" font-size="12">2</text></g>
<path d="M366.9 209.7h1.3v59.0h-188.3v-1.3h187.0z" fill="#4a4a4a" opacity="0.85"/>
<rect x="178.6" y="208.4" width="188.3" height="59.0" fill="#e8e8e8" fill-opacity="0.86" stroke="#bdbdbd" stroke-width="0.8"/>
<g fill="#0000e8" stroke="#000040" stroke-width="0.6"><circle cx="185.0" cy="217.1" r="1.95"/><circle cx="191.7" cy="216.3" r="1.95"/><circle cx="198.2" cy="217.4" r="1.95"/></g>
<g fill="rgba(235,50,50,0.55)" stroke="rgba(0,0,0,0.55)" stroke-width="0.6"><path d="M185.0 228.2L187.8 231.0L185.0 233.8L182.2 231.0Z"/><path d="M191.7 227.4L194.5 230.2L191.7 233.0L188.9 230.2Z"/><path d="M198.2 228.5L201.0 231.3L198.2 234.1L195.4 231.3Z"/></g>
<g fill="#164f16" stroke="rgba(0,0,0,0.6)" stroke-width="0.5"><path d="M185.00 242.30L185.58 244.10L187.47 244.10L185.94 245.21L186.53 247.00L185.00 245.89L183.47 247.00L184.06 245.21L182.53 244.10L184.42 244.10Z"/><path d="M191.70 241.50L192.28 243.30L194.17 243.30L192.64 244.41L193.23 246.20L191.70 245.09L190.17 246.20L190.76 244.41L189.23 243.30L191.12 243.30Z"/><path d="M198.20 242.60L198.78 244.40L200.67 244.40L199.14 245.51L199.73 247.30L198.20 246.19L196.67 247.30L197.26 245.51L195.73 244.40L197.62 244.40Z"/></g>
<rect x="182.4" y="255.2" width="19.2" height="6.5" fill="#bdbdbd"/>
<text x="212.2" y="219.7" font-size="10.2" fill="#111" textLength="100.9" lengthAdjust="spacingAndGlyphs">31 X-ray sources with</text>
<text class="ser it" x="316.8" y="219.7" font-size="11.2" fill="#111" textLength="40.1" lengthAdjust="spacingAndGlyphs">Lx<tspan font-size="13" dy="0.4"> &lt; </tspan><tspan dy="-0.4">3e42</tspan></text>
<text x="212.2" y="233.6" font-size="10.2" fill="#111" textLength="106.3" lengthAdjust="spacingAndGlyphs">150 X-ray sources with</text>
<text class="ser it" x="322.6" y="233.6" font-size="11.2" fill="#111" textLength="40.1" lengthAdjust="spacingAndGlyphs">Lx<tspan font-size="13" dy="0.4"> &gt; </tspan><tspan dy="-0.4">3e42</tspan></text>
<text x="212.2" y="247.5" font-size="10.2" fill="#111" textLength="109.1" lengthAdjust="spacingAndGlyphs">4 X-ray sources with no</text>
<text class="ser it" x="325.4" y="247.5" font-size="11.2" fill="#111" textLength="10.9" lengthAdjust="spacingAndGlyphs">Lx</text>
<text x="208.9" y="261.5" font-size="10.2" fill="#111" textLength="77.7" lengthAdjust="spacingAndGlyphs">Selection Region</text>
<path d="M755.5 209.8h1.3v58.8h-185.2v-1.3h183.9z" fill="#4a4a4a" opacity="0.85"/>
<rect x="570.3" y="208.5" width="185.2" height="58.8" fill="#e8e8e8" fill-opacity="0.86" stroke="#bdbdbd" stroke-width="0.8"/>
<g fill="#0000e8" stroke="#000040" stroke-width="0.6"><circle cx="576.7" cy="217.2" r="1.95"/><circle cx="583.4" cy="216.4" r="1.95"/><circle cx="589.9" cy="217.5" r="1.95"/></g>
<g fill="rgba(235,50,50,0.55)" stroke="rgba(0,0,0,0.55)" stroke-width="0.6"><path d="M576.7 228.3L579.5 231.1L576.7 233.9L573.9 231.1Z"/><path d="M583.4 227.5L586.2 230.3L583.4 233.1L580.6 230.3Z"/><path d="M589.9 228.6L592.7 231.4L589.9 234.2L587.1 231.4Z"/></g>
<g fill="#164f16" stroke="rgba(0,0,0,0.6)" stroke-width="0.5"><path d="M576.70 242.40L577.28 244.20L579.17 244.20L577.64 245.31L578.23 247.10L576.70 245.99L575.17 247.10L575.76 245.31L574.23 244.20L576.12 244.20Z"/><path d="M583.40 241.60L583.98 243.40L585.87 243.40L584.34 244.51L584.93 246.30L583.40 245.19L581.87 246.30L582.46 244.51L580.93 243.40L582.82 243.40Z"/><path d="M589.90 242.70L590.48 244.50L592.37 244.50L590.84 245.61L591.43 247.40L589.90 246.29L588.37 247.40L588.96 245.61L587.43 244.50L589.32 244.50Z"/></g>
<rect x="574.1" y="255.3" width="19.2" height="6.5" fill="#bdbdbd"/>
<text x="600.6" y="219.8" font-size="10.2" fill="#111" textLength="100.9" lengthAdjust="spacingAndGlyphs">29 X-ray sources with</text>
<text class="ser it" x="704.9" y="219.8" font-size="11.2" fill="#111" textLength="40.3" lengthAdjust="spacingAndGlyphs">Lx<tspan font-size="13" dy="0.4"> &lt; </tspan><tspan dy="-0.4">3e42</tspan></text>
<text x="600.6" y="233.7" font-size="10.2" fill="#111" textLength="106.6" lengthAdjust="spacingAndGlyphs">108 X-ray sources with</text>
<text class="ser it" x="710.8" y="233.7" font-size="11.2" fill="#111" textLength="40.2" lengthAdjust="spacingAndGlyphs">Lx<tspan font-size="13" dy="0.4"> &gt; </tspan><tspan dy="-0.4">3e42</tspan></text>
<text x="600.6" y="247.6" font-size="10.2" fill="#111" textLength="119.3" lengthAdjust="spacingAndGlyphs">17 X-ray sources with not</text>
<text class="ser it" x="723.1" y="247.6" font-size="11.2" fill="#111" textLength="11.2" lengthAdjust="spacingAndGlyphs">Lx</text>
<text x="600.6" y="261.6" font-size="10.2" fill="#111" textLength="77.7" lengthAdjust="spacingAndGlyphs">Selection Region</text>
</svg>
</body></html>
